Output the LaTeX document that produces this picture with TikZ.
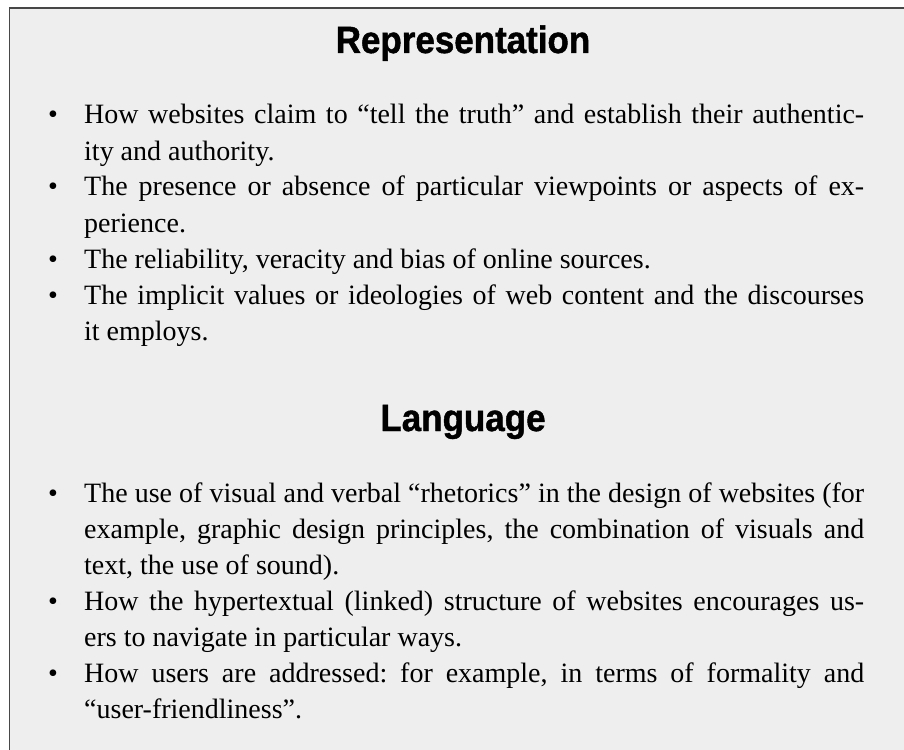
\documentclass[tikz,border=0pt]{standalone}
\usepackage{fontspec}
\setmainfont{Liberation Serif}
\newfontfamily\headfont{Liberation Sans}[FakeStretch=0.92,BoldFont={* Bold},BoldFeatures={FakeBold=1.2}]
\definecolor{panelfill}{HTML}{EEEEEE}
\definecolor{panelrule}{HTML}{474747}
\frenchspacing

% justified line, last line of a paragraph, and bulleted variants
\newcommand\jline[1]{\hbox to 780pt{#1}}
\newcommand\lline[1]{\hbox to 780pt{#1\hfil}}
\newcommand\bul{\llap{\hbox to 36pt{\textbullet\hfil}}}
\newcommand\bjline[1]{\hbox to 780pt{\bul#1}}
\newcommand\blline[1]{\hbox to 780pt{\bul#1\hfil}}

\tikzset{
  heading/.style={anchor=base, inner sep=0pt, font=\headfont\bfseries\fontsize{38}{40}\selectfont},
  bodytext/.style={anchor=base west, inner sep=0pt, font=\fontsize{28}{36}\selectfont}
}

\begin{document}
\begin{tikzpicture}[x=1pt,y=1pt]
\useasboundingbox (0,0) rectangle (904,-749);
% panel background and its top/left rules
\fill[panelfill] (9,-8) rectangle (910,-760);
\draw[panelrule, line width=1.2pt] (9.5,-760) -- (9.5,-8);
\draw[panelrule, line width=2.2pt] (8.9,-8) -- (910,-8);

\node[heading] (rep) at (463,-53) {Representation};
\node[bodytext] (repbody) at (84,-124) {\vtop{\baselineskip=36pt
  \bjline{How websites claim to “tell the truth” and establish their authentic-}
  \lline{ity and authority.}
  \bjline{The presence or absence of particular viewpoints or aspects of ex-}
  \lline{perience.}
  \blline{The reliability, veracity and bias of online sources.}
  \bjline{The implicit values or ideologies of web content and the discourses}
  \lline{it employs.}}};

\node[heading] (lang) at (463,-431) {Language};
\node[bodytext] (langbody) at (84,-502) {\vtop{\baselineskip=36pt
  \bjline{The use of visual and verbal “rhetorics” in the design of websites (for}
  \jline{example, graphic design principles, the combination of visuals and}
  \lline{text, the use of sound).}
  \bjline{How the hypertextual (linked) structure of websites encourages us-}
  \lline{ers to navigate in particular ways.}
  \bjline{How users are addressed: for example, in terms of formality and}
  \lline{“user-friendliness”.}}};
\end{tikzpicture}
\end{document}
